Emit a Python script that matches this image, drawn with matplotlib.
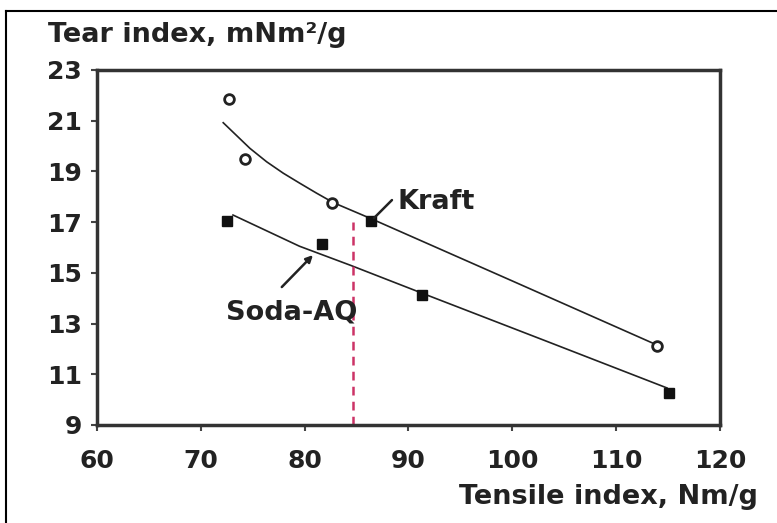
import numpy as np
import matplotlib
matplotlib.use('Agg')
import matplotlib.pyplot as plt
from matplotlib.lines import Line2D

plt.rcParams['font.family'] = ['DejaVu Sans']
plt.rcParams['font.weight'] = 'bold'

# measured points
kraft_x = [72.7, 74.3, 82.6, 113.9]
kraft_y = [21.85, 19.5, 17.75, 12.1]
kraft_sq_x = [86.4]
kraft_sq_y = [17.05]
soda_x = [72.5, 81.7, 91.3, 115.1]
soda_y = [17.05, 16.15, 14.13, 10.28]

# trend curves
kraft_fit_x = [72.16, 74.73, 76.34, 77.94, 79.55, 81.16, 82.76, 86.49, 100.0, 113.9]
kraft_fit_y = [20.92, 19.91, 19.38, 18.93, 18.53, 18.14, 17.77, 17.12, 14.68, 12.16]
soda_fit_x = [73.1, 79.5, 84.4, 91.3, 103.0, 114.9]
soda_fit_y = [17.28, 16.05, 15.3, 14.2, 12.35, 10.46]

ref_x = 84.7
ref_y = [9, 17.0]

xticks = [60, 70, 80, 90, 100, 110, 120]
yticks = [9, 11, 13, 15, 17, 19, 21, 23]

fs_tick = 18
fs_lab = 19.5
tc = '#222222'

fig = plt.figure(figsize=(7.77, 5.23), dpi=100)
ax = fig.add_axes([0.1248, 0.1874, 0.8018, 0.6788])

lc = '#222222'
ax.plot(kraft_fit_x, kraft_fit_y, color=lc, lw=1.2)
ax.plot(soda_fit_x, soda_fit_y, color=lc, lw=1.2)
ax.plot(kraft_x, kraft_y, 'o', ms=7, mfc='white', mec=lc, mew=2)
ax.plot(kraft_sq_x, kraft_sq_y, 's', ms=6.5, color='#111111')
ax.plot(soda_x, soda_y, 's', ms=6.5, color='#111111')
ax.plot([ref_x, ref_x], ref_y, color='#cc3366', lw=1.8, dashes=(3.5, 2.5))

# labels with pointer lines
ax.annotate('', xy=(86.68, 17.16), xytext=(88.41, 17.87),
            arrowprops=dict(arrowstyle='-', color=lc, lw=1.8, shrinkA=0, shrinkB=0))
ax.text(88.9, 17.8, 'Kraft', fontsize=fs_lab, fontweight='bold', va='center',
        ha='left', color=tc)
ax.annotate('', xy=(80.8, 15.7), xytext=(77.8, 14.44),
            arrowprops=dict(arrowstyle='-|>', color=lc, lw=1.8, mutation_scale=10,
                            shrinkA=0, shrinkB=0))
ax.text(72.4, 13.42, 'Soda-AQ', fontsize=fs_lab, fontweight='bold', va='center',
        ha='left', color=tc)

ax.set_xlim(60, 120)
ax.set_ylim(9, 23)
ax.set_xticks(xticks)
ax.set_yticks(yticks)
for s in ax.spines.values():
    s.set_linewidth(2.5)
    s.set_color('#333333')
ax.tick_params(axis='both', direction='out', length=4, width=1.5, color='#444444',
               labelsize=fs_tick, labelcolor=tc)
ax.tick_params(axis='y', pad=7)
ax.tick_params(axis='x', pad=13)

fig.text(48 / 777, 1 - 35 / 523, 'Tear index, mNm²/g', fontsize=fs_lab, fontweight='bold',
         ha='left', va='center', color=tc)
fig.text(758 / 777, 1 - 497 / 523, 'Tensile index, Nm/g', fontsize=fs_lab, fontweight='bold',
         ha='right', va='center', color=tc)

# outer frame (top and left edges visible)
fig.add_artist(Line2D([6 / 777, 1], [1 - 11 / 523, 1 - 11 / 523], color='black', lw=1.5))
fig.add_artist(Line2D([6 / 777, 6 / 777], [0, 1 - 11 / 523], color='black', lw=1.5))

fig.savefig('out.png', dpi=100)
